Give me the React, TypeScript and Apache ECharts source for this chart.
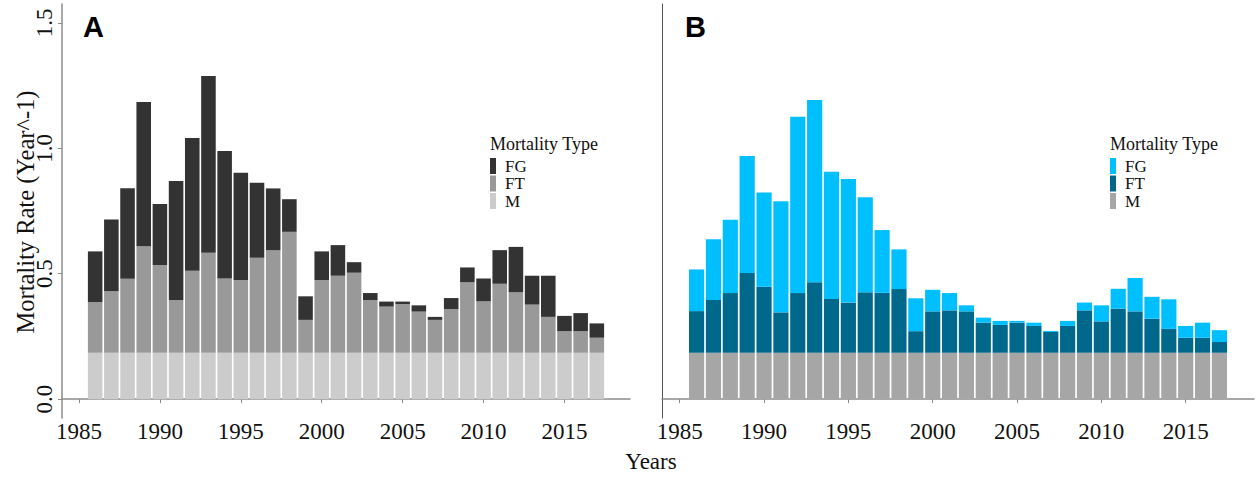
import React, { useEffect, useRef } from "react";
import * as echarts from "echarts";

// Years of the assessment series
const years: number[] = [
  1986, 1987, 1988, 1989, 1990, 1991, 1992, 1993, 1994, 1995, 1996, 1997, 1998, 1999, 2000, 2001,
  2002, 2003, 2004, 2005, 2006, 2007, 2008, 2009, 2010, 2011, 2012, 2013, 2014, 2015, 2016, 2017,
];

// Natural mortality (M), constant over the years
const naturalM = 0.185;

// Panel A components
const ftA: number[] = [
  0.202, 0.245, 0.295, 0.425, 0.349, 0.209, 0.327, 0.399, 0.296, 0.29, 0.379, 0.408, 0.482, 0.131, 0.29, 0.307,
  0.319, 0.21, 0.184, 0.194, 0.164, 0.131, 0.174, 0.281, 0.205, 0.275, 0.241, 0.192, 0.143, 0.086, 0.086, 0.06,
];
const fgA: number[] = [
  0.202, 0.286, 0.361, 0.574, 0.244, 0.476, 0.529, 0.704, 0.508, 0.427, 0.299, 0.247, 0.13, 0.094, 0.114, 0.122,
  0.042, 0.028, 0.02, 0.01, 0.025, 0.012, 0.044, 0.059, 0.091, 0.134, 0.181, 0.115, 0.164, 0.061, 0.072, 0.057,
];

// Panel B components
const ftB: number[] = [
  0.166, 0.21, 0.238, 0.318, 0.263, 0.161, 0.238, 0.281, 0.214, 0.2, 0.241, 0.239, 0.254, 0.086, 0.165, 0.169,
  0.165, 0.12, 0.111, 0.12, 0.107, 0.083, 0.107, 0.169, 0.125, 0.176, 0.165, 0.136, 0.095, 0.06, 0.06, 0.043,
];
const fgB: number[] = [
  0.166, 0.242, 0.292, 0.466, 0.376, 0.443, 0.703, 0.726, 0.507, 0.493, 0.379, 0.25, 0.158, 0.131, 0.086, 0.069,
  0.024, 0.02, 0.016, 0.007, 0.013, 0.004, 0.02, 0.031, 0.064, 0.079, 0.133, 0.087, 0.118, 0.047, 0.06, 0.047,
];

const xTicks: number[] = [1985, 1990, 1995, 2000, 2005, 2010, 2015];
const yTicks: number[] = [0, 0.5, 1.0, 1.5];
const legendNames: string[] = ["FG", "FT", "M"];

const colorsA = { FG: "#333333", FT: "#999999", M: "#cccccc" };
const colorsB = { FG: "#00bfff", FT: "#00688b", M: "#a6a6a6" };

const SERIF = "'Liberation Serif', 'Times New Roman', serif";
const SANS = "'Liberation Sans', Arial, sans-serif";

// Bar width as a fraction of one year
const BAR_FRACTION = 0.9;

// One stacked segment per data row: [year, bottom, top]
function renderSegment(color: string) {
  return (params: any, api: any) => {
    const year = api.value(0);
    const lo = api.coord([year, api.value(1)]);
    const hi = api.coord([year, api.value(2)]);
    const w = api.size([1, 0])[0] * BAR_FRACTION;
    return {
      type: "rect",
      shape: { x: lo[0] - w / 2, y: hi[1], width: w, height: lo[1] - hi[1] },
      style: { fill: color },
    };
  };
}

function stackedSeries(ft: number[], fg: number[], colors: any, axisIndex: number) {
  const mRows = years.map((y) => [y, 0, naturalM]);
  const ftRows = years.map((y, i) => [y, naturalM, naturalM + ft[i]]);
  const fgRows = years.map((y, i) => [y, naturalM + ft[i], naturalM + ft[i] + fg[i]]);
  const base = {
    type: "custom",
    xAxisIndex: axisIndex,
    yAxisIndex: axisIndex,
    silent: true,
    encode: { x: 0, y: [1, 2] },
  };
  return [
    { ...base, name: "M", data: mRows, renderItem: renderSegment(colors.M) },
    { ...base, name: "FT", data: ftRows, renderItem: renderSegment(colors.FT) },
    { ...base, name: "FG", data: fgRows, renderItem: renderSegment(colors.FG) },
  ];
}

function xAxisFor(gridIndex: number) {
  return {
    type: "value",
    gridIndex,
    min: 1983.95,
    max: 2019.05,
    splitLine: { show: false },
    axisLine: { show: true, lineStyle: { color: "#8c8c8c", width: 1.5 } },
    axisTick: { show: true, customValues: xTicks, length: 4, lineStyle: { color: "#8c8c8c", width: 1 } },
    axisLabel: {
      customValues: xTicks,
      formatter: (v: number) => String(Math.round(v)),
      fontFamily: SERIF,
      fontSize: 23,
      color: "#111111",
      margin: 2,
    },
  };
}

function legendGraphics(x: number, colors: any) {
  const items: any[] = [
    {
      type: "text",
      x: x,
      y: 144,
      style: {
        text: "Mortality Type",
        font: `18px ${SERIF}`,
        fill: "#111111",
        textVerticalAlign: "middle",
      },
    },
  ];
  legendNames.forEach((n, i) => {
    items.push({
      type: "rect",
      shape: { x: x, y: 158 + i * 17.5, width: 6, height: 16 },
      style: { fill: (colors as any)[n] },
    });
    items.push({
      type: "text",
      x: x + 15,
      y: 166 + i * 17.5,
      style: {
        text: n,
        font: `17px ${SERIF}`,
        fill: "#111111",
        textVerticalAlign: "middle",
      },
    });
  });
  return items;
}

export default function App() {
  const ref = useRef<HTMLDivElement>(null);

  useEffect(() => {
    if (!ref.current) return;
    const chart = echarts.init(ref.current, null, { renderer: "svg" });
    chart.setOption({
      animation: false,
      backgroundColor: "#ffffff",
      grid: [
        { left: 62, top: 4, width: 568, height: 414 },
        { left: 662, top: 4, width: 592, height: 414 },
      ],
      xAxis: [xAxisFor(0), xAxisFor(1)],
      yAxis: [
        {
          type: "value",
          gridIndex: 0,
          min: -0.075,
          max: 1.575,
          splitLine: { show: false },
          axisLine: { show: true, lineStyle: { color: "#8c8c8c", width: 1.5 } },
          axisTick: { show: true, customValues: yTicks, length: 4, lineStyle: { color: "#8c8c8c", width: 1 } },
          axisLabel: {
            customValues: yTicks,
            rotate: 90,
            formatter: (v: number) => v.toFixed(1),
            fontFamily: SERIF,
            fontSize: 23,
            color: "#111111",
            margin: 6,
          },
        },
        {
          type: "value",
          gridIndex: 1,
          min: -0.075,
          max: 1.575,
          splitLine: { show: false },
          axisLine: { show: true, lineStyle: { color: "#555555", width: 1 } },
          axisTick: { show: false },
          axisLabel: { show: false },
        },
      ],
      series: [...stackedSeries(ftA, fgA, colorsA, 0), ...stackedSeries(ftB, fgB, colorsB, 1)],
      graphic: [
        {
          type: "text",
          x: 83,
          y: 12,
          style: { text: "A", font: `bold 29px ${SANS}`, fill: "#000000" },
        },
        {
          type: "text",
          x: 685,
          y: 12,
          style: { text: "B", font: `bold 29px ${SANS}`, fill: "#000000" },
        },
        {
          type: "text",
          x: 25,
          y: 212,
          rotation: Math.PI / 2,
          style: {
            text: "Mortality Rate (Year^-1)",
            font: `24.5px ${SERIF}`,
            fill: "#111111",
            textAlign: "center",
            textVerticalAlign: "middle",
          },
        },
        {
          type: "text",
          x: 651,
          y: 461,
          style: {
            text: "Years",
            font: `23px ${SERIF}`,
            fill: "#111111",
            textAlign: "center",
            textVerticalAlign: "middle",
          },
        },
        ...legendGraphics(490, colorsA),
        ...legendGraphics(1110, colorsB),
      ],
    });
    return () => chart.dispose();
  }, []);

  return (
    <div
      ref={ref}
      style={{ position: "absolute", left: 0, top: 0, width: 1256, height: 477, background: "#ffffff" }}
    />
  );
}
